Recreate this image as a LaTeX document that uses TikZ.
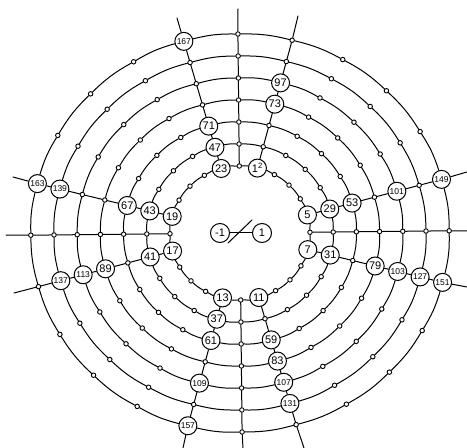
\documentclass[tikz,border=0pt]{standalone}
\usepackage{fontspec}
\setmainfont{Liberation Sans}
\tikzset{
  spot/.style={circle,draw,fill=white,inner sep=0pt,minimum size=4.5pt,line width=0.9pt},
  prime/.style={circle,draw,fill=white,inner sep=0pt,minimum size=18pt,line width=1pt,font=\fontsize{11}{11}\selectfont},
  longprime/.style={prime,font=\fontsize{8.5}{8.5}\selectfont},
  ring/.style={line width=1pt,line cap=round}
}
\begin{document}
\begin{tikzpicture}[x=1pt,y=1pt]
  \useasboundingbox (0,0) rectangle (467,448);
  % free ends of the spokes
  \foreach \n/\x/\y in {145/298/432,149/467/276,150/467/217,151/467/161,155/304/0,156/243/0,
                        157/183/0,161/14/155,162/6/213,163/13/271,167/177/430,168/238/439}
    \coordinate (s\n) at (\x,\y);
  \begin{scope}[rotate around={0.6:(240,215)}]
    % every position of the seven rings
    \foreach \n in {1,...,168}{
      \pgfmathtruncatemacro{\k}{(\n-1)/24}
      \node[spot] (p\n) at ({240+(70+23.2*\k)*cos(90-15*\n)},{215+(67+22*\k)*sin(90-15*\n)}) {};
    }
  \end{scope}
  % the numbered ones replace their spots
  \foreach \n in {5,7,11,13,17,19,23,29,31,37,41,43,47,53,59,61,67,71,73,79,83,89,97}
    \node[prime] (p\n) at (p\n) {\n};
  \foreach \n in {101,103,107,109,113,127,131,137,139,149,151,157,163,167}
    \node[longprime] (p\n) at (p\n) {\n};
  \node[prime] (p1) at (p1) {1\textsuperscript{2}};
  \node[prime,minimum size=19pt] (mone) at (220,215) {-1};
  \node[prime,minimum size=19pt] (one) at (262,215) {1};
  \coordinate (slasha) at (228,205);
  \coordinate (slashb) at (252,228);
  \draw[ring] (mone) -- (one);
  \draw[ring] (slasha) -- (slashb);
  % rings
  \foreach \n in {1,...,168}{
    \pgfmathtruncatemacro{\m}{mod(\n,24)==0 ? \n-23 : \n+1}
    \path[ring,draw] (p\n) edge[bend left=7.5] (p\m);
  }
  % spokes
  \foreach \n in {1,5,6,7,11,12,13,17,18,19,23,24}{
    \foreach \k in {0,...,5}{
      \pgfmathtruncatemacro{\a}{\n+24*\k}
      \pgfmathtruncatemacro{\b}{\a+24}
      \draw[ring] (p\a) -- (p\b);
    }
  }
  \foreach \n in {145,149,150,151,155,156,157,161,162,163,167,168}
    \draw[ring] (p\n) -- (s\n);
\end{tikzpicture}
\end{document}
